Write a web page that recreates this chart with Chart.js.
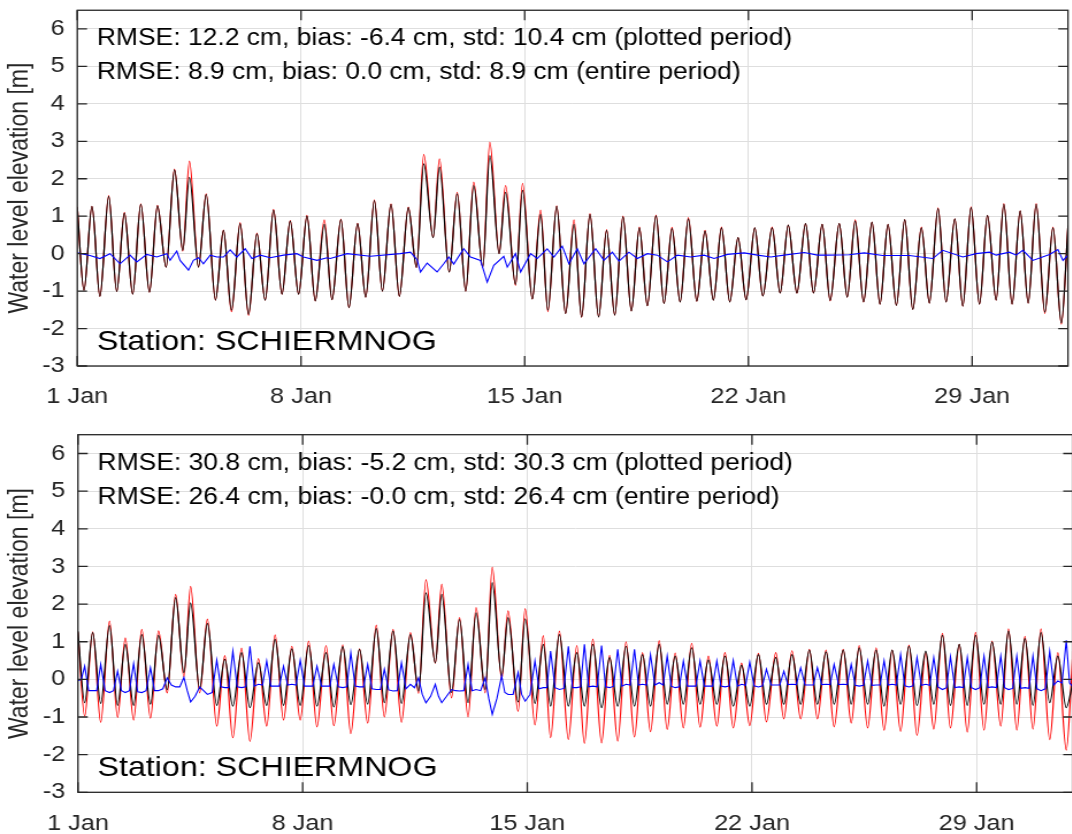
<!DOCTYPE html>
<html>
<head>
<meta charset="utf-8">
<script src="https://cdn.jsdelivr.net/npm/chart.js@4.4.1/dist/chart.umd.min.js"></script>
<style>
  html, body { margin: 0; padding: 0; background: #fff; overflow: hidden; width: 1072px; height: 834px; }
  .panel { position: absolute; left: 0; transform: scaleX(1.15); transform-origin: 0 0; }
  #top-panel { top: 0; width: 932px; height: 417px; }
  #bottom-panel { top: 417px; width: 936px; height: 417px; }
</style>
</head>
<body>
<div class="panel" id="top-panel"><canvas id="chart-top" width="932" height="417"></canvas></div>
<div class="panel" id="bottom-panel"><canvas id="chart-bottom" width="936" height="417"></canvas></div>
<script>
// hours since 1 Jan 00:00 of each high / low water
const tideHours = [
  0, 5.0, 11.0, 17.0, 23.6, 29.6, 35.4, 41.6, 47.7, 54.2,
  60.2, 66.7, 73.0, 79.2, 84.2, 91.0, 96.8, 103.8, 109.8, 115.8,
  122.3, 128.6, 134.9, 141.1, 147.4, 153.7, 159.9, 166.2, 172.5, 178.7,
  185.5, 191.3, 198.0, 204.0, 210.5, 216.6, 223.1, 229.1, 235.6, 241.9,
  248.6, 254.7, 260.2, 267.2, 272.0, 279.3, 285.3, 291.7, 297.7, 304.5,
  309.8, 316.8, 321.6, 329.1, 334.4, 341.7, 347.9, 353.4, 360.0, 366.7,
  373.0, 378.7, 385.0, 391.5, 397.5, 403.6, 409.8, 416.1, 422.1, 428.1,
  434.6, 440.6, 446.6, 452.7, 458.9, 465.2, 471.4, 477.7, 483.8, 490.0,
  496.2, 502.3, 508.8, 514.8, 521.8, 527.8, 533.9, 540.4, 546.9, 552.9,
  559.4, 565.4, 572.2, 578.2, 584.2, 590.5, 596.8, 602.8, 608.8, 615.1,
  621.4, 627.4, 633.9, 639.9, 646.4, 652.4, 659.0, 665.0, 671.2, 677.5,
  683.5, 690.0, 695.8, 702.0, 708.1, 714.1, 720.1, 726.6, 732.7, 739.0,
  744
];

// observed water level (red) [m]
const observed = [
  1.25, -0.98, 1.26, -1.14, 1.55, -1.01, 1.10, -1.08, 1.33, -1.03,
  1.29, -0.36, 2.26, 0.07, 2.47, -0.36, 1.60, -1.24, 0.63, -1.55,
  0.83, -1.65, 0.55, -1.24, 1.18, -1.08, 0.88, -1.08, 1.02, -1.26,
  0.90, -1.23, 0.92, -1.44, 0.81, -1.16, 1.44, -1.00, 1.33, -1.14,
  1.24, -0.37, 2.65, 0.43, 2.53, -0.49, 1.64, -1.00, 1.91, -0.36,
  2.98, 0.00, 1.82, -0.85, 1.88, -1.21, 1.16, -1.55, 1.28, -1.60,
  0.90, -1.70, 1.07, -1.69, 0.64, -1.64, 1.00, -1.53, 0.71, -1.39,
  1.03, -1.33, 0.70, -1.29, 0.96, -1.27, 0.62, -1.24, 0.71, -1.29,
  0.43, -1.23, 0.69, -1.13, 0.71, -1.05, 0.76, -1.05, 0.80, -1.05,
  0.78, -1.26, 0.80, -1.16, 0.90, -1.29, 0.84, -1.35, 0.78, -1.38,
  0.91, -1.49, 0.71, -1.32, 1.22, -1.29, 0.93, -1.40, 1.25, -1.35,
  1.02, -1.24, 1.34, -1.35, 1.14, -1.32, 1.34, -1.60, 0.71, -1.88,
  0.75
];

// model, top panel (black)
const modelTop = [
  1.24, -0.98, 1.26, -1.14, 1.53, -1.01, 1.08, -1.08, 1.32, -1.03,
  1.28, -0.36, 2.24, 0.09, 2.04, -0.36, 1.58, -1.24, 0.62, -1.51,
  0.80, -1.62, 0.53, -1.24, 1.16, -1.08, 0.87, -1.08, 1.00, -1.26,
  0.78, -1.23, 0.91, -1.44, 0.80, -1.16, 1.42, -1.00, 1.32, -1.14,
  1.23, -0.37, 2.40, 0.43, 2.31, -0.49, 1.60, -1.00, 1.82, -0.36,
  2.62, 0.00, 1.64, -0.82, 1.69, -1.21, 1.05, -1.51, 1.26, -1.60,
  0.78, -1.69, 1.05, -1.69, 0.62, -1.64, 0.98, -1.53, 0.69, -1.39,
  1.01, -1.33, 0.67, -1.29, 0.93, -1.27, 0.60, -1.24, 0.69, -1.29,
  0.43, -1.23, 0.69, -1.13, 0.69, -1.05, 0.76, -1.05, 0.80, -1.05,
  0.78, -1.25, 0.80, -1.16, 0.87, -1.29, 0.84, -1.35, 0.78, -1.38,
  0.91, -1.49, 0.69, -1.32, 1.20, -1.29, 0.93, -1.40, 1.23, -1.35,
  1.02, -1.24, 1.32, -1.35, 1.14, -1.32, 1.32, -1.56, 0.69, -1.85,
  0.75
];

// model, bottom panel (black)
const modelBottom = [
  1.28, -0.62, 1.24, -0.64, 1.43, -0.69, 0.93, -0.69, 1.19, -0.66,
  1.17, -0.27, 2.17, 0.18, 2.03, -0.25, 1.49, -0.69, 0.53, -0.71,
  0.71, -0.75, 0.44, -0.69, 1.06, -0.69, 0.81, -0.69, 0.90, -0.71,
  0.71, -0.73, 0.87, -0.67, 0.80, -0.66, 1.35, -0.62, 1.28, -0.64,
  1.19, -0.31, 2.30, 0.44, 2.26, -0.35, 1.59, -0.62, 1.77, -0.27,
  2.57, 0.09, 1.64, -0.60, 1.61, -0.64, 0.93, -0.71, 1.19, -0.71,
  0.71, -0.71, 0.93, -0.75, 0.58, -0.71, 0.88, -0.71, 0.66, -0.71,
  0.93, -0.66, 0.62, -0.66, 0.84, -0.66, 0.51, -0.66, 0.62, -0.71,
  0.37, -0.71, 0.66, -0.66, 0.58, -0.66, 0.66, -0.66, 0.78, -0.66,
  0.73, -0.66, 0.78, -0.66, 0.84, -0.66, 0.78, -0.71, 0.78, -0.66,
  0.88, -0.69, 0.75, -0.66, 1.17, -0.69, 0.93, -0.69, 1.17, -0.66,
  0.99, -0.66, 1.28, -0.66, 1.08, -0.69, 1.24, -0.62, 0.62, -0.75,
  -0.05
];

// difference, bottom panel (blue), at the high / low water times
const residualBottom = [
  -0.04, 0.35, -0.30, 0.40, -0.35, 0.22, -0.35, 0.42, -0.35, 0.31,
  -0.30, 0.04, -0.20, 0.05, -0.60, -0.20, -0.40, 0.51, -0.22, 0.75,
  -0.22, 0.88, -0.13, 0.49, -0.18, 0.35, -0.13, 0.51, -0.18, 0.35,
  -0.18, 0.40, -0.22, 0.71, -0.20, 0.40, -0.27, 0.27, -0.31, 0.44,
  -0.13, 0.04, -0.62, -0.13, -0.62, -0.27, -0.31, 0.40, -0.27, 0.04,
  -0.93, 0.09, -0.40, 0.18, -0.58, 0.49, -0.22, 0.75, -0.27, 0.88,
  -0.22, 0.93, -0.18, 0.90, -0.22, 0.80, -0.13, 0.80, -0.13, 0.66,
  -0.09, 0.62, -0.22, 0.49, -0.18, 0.49, -0.18, 0.49, -0.20, 0.50,
  -0.13, 0.46, -0.20, 0.27, -0.15, 0.22, -0.13, 0.31, -0.15, 0.31,
  -0.13, 0.40, -0.13, 0.40, -0.18, 0.49, -0.15, 0.50, -0.13, 0.66,
  -0.20, 0.58, -0.13, 0.58, -0.27, 0.60, -0.20, 0.58, -0.27, 0.62,
  -0.20, 0.62, -0.27, 0.62, -0.22, 0.62, -0.30, 0.75, -0.04, 1.04,
  -0.20
];
// difference, bottom panel (blue), half way between two tide extremes
const residualBottomMid = [
  0.00, -0.30, -0.30, -0.30, -0.30, -0.30, -0.30, -0.33, -0.30, -0.30,
  -0.25, -0.15, -0.20, -0.30, -0.45, -0.30, -0.35, -0.20, -0.22, -0.20,
  -0.20, -0.18, -0.15, -0.18, -0.18, -0.15, -0.15, -0.18, -0.18, -0.18,
  -0.18, -0.20, -0.20, -0.18, -0.20, -0.25, -0.27, -0.28, -0.30, -0.25,
  -0.22, -0.40, -0.45, -0.45, -0.45, -0.30, -0.30, -0.30, -0.30, -0.50,
  -0.50, -0.35, -0.40, -0.40, -0.40, -0.25, -0.22, -0.22, -0.24, -0.22,
  -0.20, -0.20, -0.20, -0.20, -0.18, -0.18, -0.15, -0.15, -0.15, -0.15,
  -0.15, -0.18, -0.20, -0.18, -0.18, -0.18, -0.18, -0.18, -0.18, -0.18,
  -0.16, -0.17, -0.17, -0.15, -0.15, -0.14, -0.14, -0.15, -0.15, -0.14,
  -0.14, -0.14, -0.14, -0.16, -0.16, -0.16, -0.15, -0.15, -0.15, -0.17,
  -0.17, -0.16, -0.16, -0.20, -0.22, -0.22, -0.22, -0.22, -0.22, -0.22,
  -0.22, -0.22, -0.24, -0.24, -0.24, -0.25, -0.25, -0.15, -0.10, -0.10
];

// difference, top panel (blue)
const residualTopHours = [
  0, 9.5, 17, 24.6, 32.1, 39.6, 44.7, 52.2, 59.7, 67.2,
  69.7, 74.7, 77.2, 83.5, 87.2, 91, 94.7, 99.8, 104.8, 109.8,
  114.8, 119.8, 126.1, 131.1, 137.4, 144.9, 154.9, 164.9, 169.9, 180,
  187.5, 190, 202.6, 220.1, 242.6, 250.2, 255.2, 257.7, 262.7, 270.2,
  275.2, 279, 282.7, 290.2, 295.3, 302.8, 307.8, 312.8, 320.3, 322.9,
  329.1, 332.9, 340.4, 345.4, 352.9, 357.9, 364.2, 369.2, 375.5, 380.5,
  389.3, 395.5, 401.8, 406.8, 414.3, 420.6, 428.1, 435.6, 443.2, 450.7,
  460.7, 470.7, 478.2, 488.3, 500.8, 510.8, 520.8, 530.8, 545.9, 555.9,
  563.5, 579.7, 591, 604.8, 624.8, 642.4, 649.9, 665, 675, 685,
  690, 700, 705, 710.1, 717.6, 730.1, 736.4, 740.2, 744
];
const residualTop = [
  0.02, -0.05, -0.13, 0.00, -0.27, -0.04, -0.22, -0.02, -0.09, 0.00,
  -0.18, 0.07, -0.18, -0.44, -0.18, -0.11, -0.27, -0.04, -0.09, -0.09,
  0.10, -0.09, 0.13, -0.13, -0.04, -0.11, -0.04, 0.00, -0.09, -0.18,
  -0.11, -0.13, 0.00, -0.07, 0.00, 0.04, -0.16, -0.49, -0.25, -0.49,
  -0.27, -0.09, -0.28, 0.13, -0.09, -0.18, -0.76, -0.31, -0.07, -0.36,
  0.00, -0.49, 0.00, -0.13, 0.13, -0.09, 0.20, -0.27, 0.13, -0.27,
  0.13, -0.18, 0.04, -0.20, 0.04, -0.13, 0.00, -0.04, -0.22, -0.04,
  -0.09, -0.04, -0.13, -0.02, 0.02, -0.04, -0.09, -0.04, 0.03, -0.04,
  -0.04, -0.03, 0.02, -0.05, -0.05, -0.13, 0.09, -0.09, 0.00, 0.04,
  -0.04, 0.04, -0.04, 0.09, -0.18, -0.02, 0.11, -0.18, -0.04
];

const dayTicks = [0, 168, 336, 504, 672];
const dayLabels = ["1 Jan", "8 Jan", "15 Jan", "22 Jan", "29 Jan"];
const levelTicks = [-3, -2, -1, 0, 1, 2, 3, 4, 5, 6];

const statsTop = [
  "RMSE: 12.2 cm, bias: -6.4 cm, std: 10.4 cm (plotted period)",
  "RMSE: 8.9 cm, bias: 0.0 cm, std: 8.9 cm (entire period)"
];
const statsBottom = [
  "RMSE: 30.8 cm, bias: -5.2 cm, std: 30.3 cm (plotted period)",
  "RMSE: 26.4 cm, bias: -0.0 cm, std: 26.4 cm (entire period)"
];
const stationName = "Station: SCHIERMNOG";

const FONT = '"Liberation Sans", Arial, Helvetica, sans-serif';
const AXIS_COLOR = "#262626";
const GRID_COLOR = "#dedede";

// box, inward ticks and the text lines inside the axes
const frame = {
  id: "frame",
  afterDatasetsDraw(chart, args, opts) {
    const { ctx, chartArea: a, scales: { x, y } } = chart;
    ctx.save();
    ctx.strokeStyle = AXIS_COLOR;
    ctx.lineWidth = 1.3;
    ctx.beginPath();
    x.ticks.forEach(t => {
      const px = x.getPixelForValue(t.value);
      ctx.moveTo(px, a.bottom); ctx.lineTo(px, a.bottom - 10);
      ctx.moveTo(px, a.top); ctx.lineTo(px, a.top + 10);
    });
    y.ticks.forEach(t => {
      const py = y.getPixelForValue(t.value);
      ctx.moveTo(a.left, py); ctx.lineTo(a.left + 8.5, py);
      ctx.moveTo(a.right, py); ctx.lineTo(a.right - 8.5, py);
    });
    ctx.stroke();
    ctx.strokeRect(a.left, a.top, a.right - a.left, a.bottom - a.top);

    ctx.fillStyle = "#000";
    ctx.textBaseline = "alphabetic";
    ctx.textAlign = "left";
    ctx.font = "23px " + FONT;
    opts.lines.forEach((s, i) => ctx.fillText(s, a.left + 17, a.top + 35 + 34 * i));
    ctx.font = "28px " + FONT;
    ctx.fillText(stationName, a.left + 17, a.bottom - 16);
    ctx.restore();
  }
};

function series(xs, ys) {
  return xs.map((t, i) => ({ x: t, y: ys[i] }));
}

// extremes plus the values read half way between them
function withMidpoints(xs, ys, mids) {
  const pts = [];
  xs.forEach((t, i) => {
    pts.push({ x: t, y: ys[i] });
    if (i < mids.length) pts.push({ x: (t + xs[i + 1]) / 2, y: mids[i] });
  });
  return pts;
}

function buildChart(id, model, residualPts, lines, pad, axisW, axisH) {
  return new Chart(document.getElementById(id), {
    type: "line",
    data: {
      datasets: [
        { label: "difference", data: residualPts, borderColor: "#0000ff", borderWidth: 1.1, tension: 0 },
        { label: "model", data: series(tideHours, model), borderColor: "#000000", borderWidth: 1.2, cubicInterpolationMode: "monotone" },
        { label: "observed", data: series(tideHours, observed), borderColor: "#ff0000", borderWidth: 1.2, cubicInterpolationMode: "monotone" }
      ]
    },
    options: {
      responsive: false,
      animation: false,
      events: [],
      layout: { padding: pad },
      elements: { point: { radius: 0 } },
      plugins: {
        legend: { display: false },
        tooltip: { enabled: false },
        frame: { lines: lines }
      },
      scales: {
        x: {
          type: "linear",
          min: 0,
          max: 744,
          afterBuildTicks: s => { s.ticks = dayTicks.map(v => ({ value: v })); },
          afterFit: s => { s.height = axisH; s.paddingLeft = 0; s.paddingRight = 0; },
          ticks: {
            callback: (v, i) => dayLabels[i],
            color: AXIS_COLOR,
            font: { family: FONT, size: 22 },
            padding: 18,
            maxRotation: 0,
            autoSkip: false
          },
          grid: { color: GRID_COLOR, lineWidth: 1, drawTicks: false },
          border: { display: false }
        },
        y: {
          min: -3,
          max: 6.5,
          afterBuildTicks: s => { s.ticks = levelTicks.map(v => ({ value: v })); },
          afterFit: s => { s.width = axisW; s.paddingTop = 0; s.paddingBottom = 0; },
          ticks: {
            color: AXIS_COLOR,
            font: { family: FONT, size: 22 },
            padding: 11
          },
          grid: { color: GRID_COLOR, lineWidth: 1, drawTicks: false },
          border: { display: false },
          title: {
            display: true,
            text: "Water level elevation [m]",
            color: AXIS_COLOR,
            font: { family: FONT, size: 23 },
            padding: { top: 4, bottom: 0 }
          }
        }
      }
    },
    plugins: [frame]
  });
}

buildChart("chart-top", modelTop, series(residualTopHours, residualTop), statsTop,
  { left: 0, right: 3.3, top: 10.25, bottom: 0 }, 67.2, 51);
buildChart("chart-bottom", modelBottom, withMidpoints(tideHours, residualBottom, residualBottomMid), statsBottom,
  { left: 0, right: 3, top: 17.7, bottom: 0 }, 67.8, 41.7);
</script>
</body>
</html>
